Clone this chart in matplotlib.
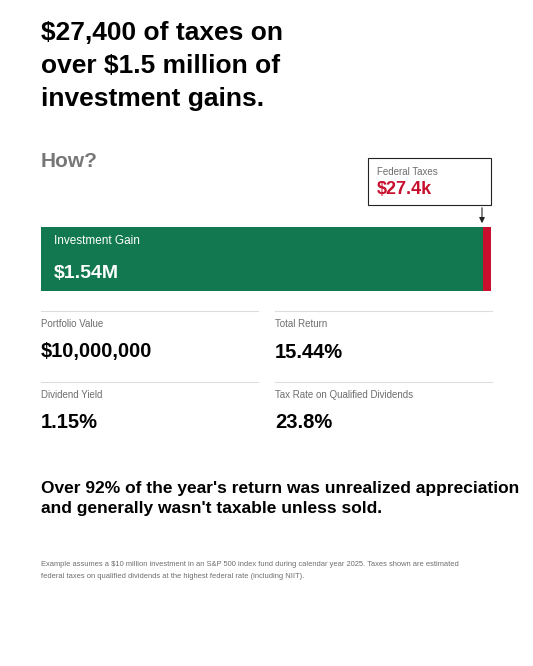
import matplotlib
matplotlib.use("Agg")
import matplotlib.pyplot as plt

plt.rcParams['font.family'] = ['Liberation Sans', 'DejaVu Sans']

W, H = 533, 666
GREEN = "#12784F"
RED = "#C8102E"
GREY = "#6E6E6E"

gain = 1_540_000
taxes = 27_400
metric_labels = ["Portfolio Value", "Total Return", "Dividend Yield", "Tax Rate on Qualified Dividends"]
metric_values = ["$10,000,000", "15.44%", "1.15%", "23.8%"]

fig = plt.figure(figsize=(W / 100, H / 100), dpi=100)


def px(x, y):
    return x / W, 1 - y / H


def txt(x, y, s, size, color="black", weight="normal", va="center", ha="left"):
    fig.text(*px(x, y), s, fontsize=size, color=color, weight=weight, va=va, ha=ha)


# headline
for i, line in enumerate(["$27,400 of taxes on", "over $1.5 million of", "investment gains."]):
    txt(41, 33 + i * 33, line, 19, weight="bold")
txt(41, 161, "How?", 15, color="#777777", weight="bold")

# bar
ax = fig.add_axes([41 / W, 1 - 291 / H, 450 / W, 64 / H])
ax.barh(0, gain - taxes, height=1, color=GREEN)
ax.barh(0, taxes, left=gain - taxes, height=1, color=RED)
ax.set_xlim(0, gain)
ax.set_ylim(-0.5, 0.5)
ax.axis("off")
txt(54, 241, "Investment Gain", 8.5, color="white")
txt(54, 274, f"${gain / 1e6:.2f}M", 14, color="white", weight="bold")

# callout
box = fig.add_axes([0, 0, 1, 1], facecolor="none")
box.set_xlim(0, W)
box.set_ylim(H, 0)
box.axis("off")
box.add_patch(plt.Rectangle((368, 158), 123, 47, fill=False, edgecolor="#222222", lw=0.8))
box.annotate("", xy=(482, 226), xytext=(482, 205),
             arrowprops=dict(arrowstyle="-|>", color="#222222", lw=0.8, mutation_scale=8))
txt(377, 172, "Federal Taxes", 7, color=GREY)
txt(377, 190, f"${taxes / 1000:.1f}k", 13, color=RED, weight="bold")

# metrics grid
cols = [41, 275]
rows = [311, 382]
for i, (lab, val) in enumerate(zip(metric_labels, metric_values)):
    x = cols[i % 2]
    y = rows[i // 2]
    box.plot([x, x + 217], [y, y], color="#DDDDDD", lw=0.8)
    txt(x, y + 13, lab, 7, color=GREY)
    txt(x, y + 41, val, 14.5, weight="bold")

txt(41, 488, "Over 92% of the year's return was unrealized appreciation", 12.5, weight="bold")
txt(41, 509, "and generally wasn't taxable unless sold.", 12.5, weight="bold")

txt(41, 565, "Example assumes a $10 million investment in an S&P 500 index fund during calendar year 2025. Taxes shown are estimated", 5.4, color=GREY)
txt(41, 576, "federal taxes on qualified dividends at the highest federal rate (including NIIT).", 5.4, color=GREY)

fig.savefig("out.png", dpi=100)
